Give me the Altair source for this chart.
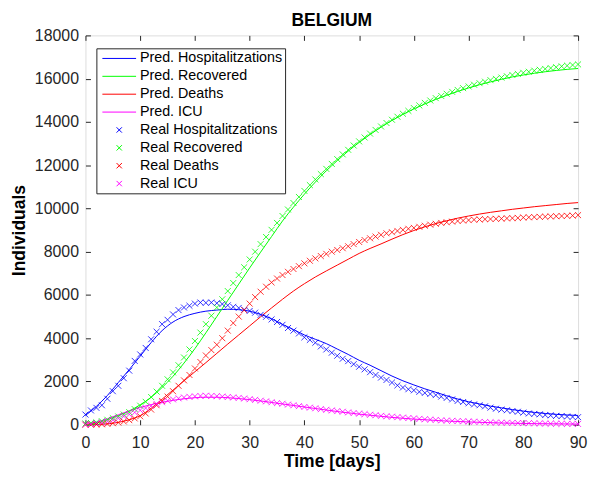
import altair as alt
import pandas as pd

FONT = "Liberation Sans"

# ---------------- data ----------------
real_days = list(range(0, 91))
pred_days = list(range(0, 91, 2))

series_names = [
    "Pred. Hospitalitzations", "Pred. Recovered", "Pred. Deaths", "Pred. ICU",
    "Real Hospitalitzations", "Real Recovered", "Real Deaths", "Real ICU",
]
series_colors = ["#0000ff", "#00ff00", "#ff0000", "#ff00ff",
                 "#0000ff", "#00ff00", "#ff0000", "#ff00ff"]

pred_hosp = [430, 850, 1350, 1950, 2550, 3170, 3800, 4350, 4750, 5000,
             5150, 5250, 5300, 5340, 5320, 5250, 5100, 4900, 4640, 4400,
             4150, 3950, 3750, 3500, 3250, 2980, 2750, 2500, 2250, 2030,
             1840, 1660, 1500, 1340, 1190, 1060, 960, 860, 780, 700,
             630, 570, 520, 480, 450, 430]
pred_recov = [0, 80, 230, 420, 640, 920, 1270, 1720, 2240, 2850,
              3520, 4250, 5000, 5750, 6500, 7250, 7980, 8700, 9420, 10060,
              10660, 11220, 11740, 12210, 12650, 13050, 13420, 13760, 14070, 14350,
              14600, 14830, 15040, 15230, 15410, 15570, 15720, 15850, 15970, 16080,
              16170, 16250, 16320, 16380, 16430, 16470]
pred_deaths = [0, 10, 40, 110, 230, 420, 760, 1180, 1600, 2030,
               2450, 2870, 3300, 3730, 4150, 4570, 4990, 5400, 5800, 6180,
               6520, 6830, 7110, 7380, 7650, 7920, 8150, 8360, 8580, 8790,
               8980, 9150, 9300, 9430, 9550, 9650, 9740, 9820, 9890, 9960,
               10020, 10080, 10130, 10180, 10230, 10270]
pred_icu = [20, 120, 280, 460, 640, 800, 930, 1040, 1130, 1200,
            1250, 1270, 1270, 1250, 1210, 1160, 1100, 1030, 960, 890,
            820, 750, 680, 610, 550, 490, 440, 390, 340, 300,
            260, 230, 200, 170, 150, 130, 110, 95, 80, 70,
            60, 50, 45, 40, 35, 30]

real_hosp = [470, 660, 780, 900, 1200, 1550, 1800, 2150, 2500, 2950,
             3250, 3550, 3950, 4300, 4650, 4850, 5100, 5300, 5420, 5500,
             5600, 5650, 5640, 5650, 5620, 5580, 5520, 5450, 5400, 5320,
             5260, 5180, 5080, 4990, 4870, 4750, 4620, 4470, 4350, 4220,
             4040, 3920, 3790, 3620, 3480, 3330, 3190, 3050, 2940, 2800,
             2680, 2560, 2430, 2300, 2180, 2070, 1950, 1820, 1720, 1640,
             1590, 1520, 1470, 1420, 1370, 1300, 1240, 1170, 1100, 1050,
             990, 940, 900, 850, 790, 740, 700, 670, 630, 600,
             560, 520, 500, 480, 450, 430, 410, 400, 380, 360,
             350]
real_recov = [50, 80, 110, 160, 230, 300, 380, 470, 580, 720,
              880, 1060, 1280, 1530, 1800, 2100, 2420, 2750, 3110, 3480,
              3870, 4260, 4650, 5040, 5420, 5800, 6180, 6550, 6920, 7280,
              7640, 8000, 8350, 8680, 9010, 9330, 9650, 9950, 10250, 10530,
              10810, 11080, 11340, 11590, 11830, 12060, 12280, 12500, 12710, 12910,
              13100, 13280, 13460, 13630, 13790, 13950, 14100, 14240, 14380, 14510,
              14640, 14760, 14880, 14990, 15100, 15200, 15300, 15390, 15480, 15560,
              15640, 15720, 15790, 15860, 15930, 15990, 16050, 16110, 16170, 16220,
              16270, 16320, 16370, 16410, 16450, 16490, 16530, 16570, 16600, 16630,
              16660]
real_deaths = [0, 5, 10, 20, 40, 70, 100, 150, 210, 290,
               390, 520, 700, 900, 1100, 1300, 1550, 1800, 2050, 2300,
               2600, 2900, 3200, 3450, 3700, 4000, 4350, 4700, 5000, 5300,
               5600, 5900, 6150, 6380, 6580, 6760, 6920, 7070, 7200, 7330,
               7460, 7580, 7690, 7800, 7900, 8000, 8080, 8160, 8250, 8350,
               8450, 8540, 8620, 8700, 8780, 8850, 8900, 8960, 9010, 9060,
               9100, 9150, 9200, 9250, 9290, 9330, 9360, 9390, 9420, 9440,
               9460, 9480, 9490, 9500, 9510, 9520, 9530, 9540, 9550, 9560,
               9580, 9590, 9600, 9610, 9620, 9630, 9640, 9650, 9660, 9670,
               9690]
real_icu = [10, 30, 60, 100, 150, 220, 300, 390, 480, 570,
            670, 770, 870, 960, 1040, 1110, 1170, 1220, 1260, 1290,
            1310, 1330, 1340, 1330, 1320, 1300, 1280, 1260, 1240, 1210,
            1180, 1150, 1110, 1080, 1040, 1000, 970, 930, 900, 860,
            820, 790, 760, 720, 690, 660, 630, 600, 570, 540,
            510, 490, 460, 440, 410, 390, 370, 350, 330, 310,
            290, 270, 250, 240, 220, 200, 190, 180, 170, 160,
            150, 140, 130, 120, 110, 100, 95, 90, 85, 80,
            75, 70, 65, 60, 55, 50, 50, 45, 40, 40,
            35]

x_ticks = [0, 10, 20, 30, 40, 50, 60, 70, 80, 90]
y_ticks = [0, 2000, 4000, 6000, 8000, 10000, 12000, 14000, 16000, 18000]

# ---------------- tables ----------------
pred_rows = []
for name, vals in zip(series_names[:4], [pred_hosp, pred_recov, pred_deaths, pred_icu]):
    for d, v in zip(pred_days, vals):
        pred_rows.append({"day": d, "value": v, "series": name})
real_rows = []
for name, vals in zip(series_names[4:], [real_hosp, real_recov, real_deaths, real_icu]):
    for d, v in zip(real_days, vals):
        real_rows.append({"day": d, "value": v, "series": name})
pred_df = pd.DataFrame(pred_rows)
real_df = pd.DataFrame(real_rows)

W, H = 496, 392

line_sym = "M-12,0L12,0"
x_sym = "M-1.9,-1.9L1.9,1.9M-1.9,1.9L1.9,-1.9"
series_shapes = [line_sym] * 4 + [x_sym] * 4

xscale = alt.Scale(domain=[0, 90], nice=False, zero=False)
yscale = alt.Scale(domain=[0, 18000], nice=False)

legend = alt.Legend(
    title=None, orient="none", legendX=11, legendY=13,
    labelFont=FONT, labelFontSize=14.4, labelColor="#000000", labelLimit=0,
    symbolSize=8, symbolStrokeWidth=1, symbolFillColor="transparent",
    symbolOffset=12.8, labelOffset=13.6, rowPadding=3.0, padding=3,
    strokeColor="#262626", fillColor="#ffffff", cornerRadius=0,
)
color_enc = alt.Color("series:N", scale=alt.Scale(domain=series_names, range=series_colors),
                      legend=legend)
shape_enc = alt.Shape("series:N", scale=alt.Scale(domain=series_names, range=series_shapes),
                      legend=legend)

tick_kw = dict(labels=False, domain=False, ticks=True, tickSize=5, tickColor="#262626",
               tickWidth=1, title=None, grid=False)

lines = alt.Chart(pred_df).mark_line(strokeWidth=1, interpolate="monotone").encode(
    x=alt.X("day:Q", scale=xscale, axis=alt.Axis(
        orient="bottom", values=x_ticks, ticks=False, domain=False, grid=False,
        labelFont=FONT, labelFontSize=16, labelColor="#262626", labelPadding=10,
        labelFlush=False, format="d",
        title="Time [days]", titleFont=FONT, titleFontSize=17.6, titleFontWeight="bold",
        titleColor="#000000", titlePadding=2)),
    y=alt.Y("value:Q", scale=yscale, axis=alt.Axis(
        orient="left", values=y_ticks, ticks=False, domain=False, grid=False,
        labelFont=FONT, labelFontSize=16, labelColor="#262626", labelPadding=7,
        format="d",
        title="Individuals", titleFont=FONT, titleFontSize=17.6, titleFontWeight="bold",
        titleColor="#000000", titlePadding=6)),
    color=color_enc,
)

points = alt.Chart(real_df).mark_point(filled=False, size=10, strokeWidth=0.8, opacity=1).encode(
    x=alt.X("day:Q", scale=xscale, axis=alt.Axis(orient="top", offset=-H, values=x_ticks, **tick_kw)),
    y=alt.Y("value:Q", scale=yscale, axis=alt.Axis(orient="right", offset=-W, values=y_ticks, **tick_kw)),
    color=color_enc,
    shape=shape_enc,
)

ghost = alt.Chart(real_df).mark_point(opacity=0).encode(
    x=alt.X("day:Q", scale=xscale, axis=alt.Axis(orient="bottom", offset=-H, values=x_ticks, **tick_kw)),
    y=alt.Y("value:Q", scale=yscale, axis=alt.Axis(orient="left", offset=-W, values=y_ticks, **tick_kw)),
)

chart = alt.layer(lines, points, ghost).resolve_axis(
    x="independent", y="independent"
).properties(
    width=W, height=H,
    title=alt.TitleParams("BELGIUM", font=FONT, fontSize=17.6, fontWeight="bold",
                          color="#000000", offset=-2, anchor="middle", frame="group"),
    autosize=alt.AutoSizeParams(type="none"),
    padding={"left": 78, "top": 26, "right": 10, "bottom": 45},
).configure_view(
    stroke="#262626", strokeWidth=1
).configure(background="#ffffff")

chart.save("out.html", embed_options={"renderer": "svg", "actions": False})
